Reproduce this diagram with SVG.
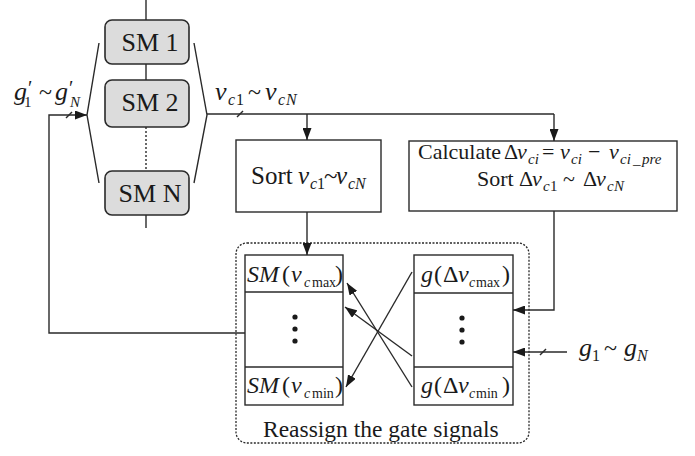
<svg xmlns="http://www.w3.org/2000/svg" width="695" height="456" viewBox="0 0 695 456">
<style>
.t{font-family:"Liberation Serif","Times New Roman",serif;fill:#1a1a1a;}
.i{font-style:italic;}
.ln{stroke:#2a2a2a;stroke-width:1.4;fill:none;}
.bx{stroke:#2a2a2a;stroke-width:1.4;fill:#fff;}
.sm{stroke:#2a2a2a;stroke-width:1.6;fill:#dcdcdc;}
</style>
<defs>
<marker id="ah" markerWidth="12" markerHeight="9" refX="12" refY="4.5" orient="auto" markerUnits="userSpaceOnUse"><path d="M0,0 L12,4.5 L0,9 z" fill="#1a1a1a"/></marker>
</defs>

<g id="sm-stack">
<line class="ln" x1="146" y1="0" x2="146" y2="20"/>
<line class="ln" x1="146" y1="64" x2="146" y2="80"/>
<line class="ln" x1="146" y1="127" x2="146" y2="171" stroke-dasharray="2,2"/>
<line class="ln" x1="146" y1="215" x2="146" y2="228"/>
<rect class="sm" x="105" y="20" width="84" height="44" rx="7"/>
<rect class="sm" x="105" y="80" width="84" height="47" rx="7"/>
<rect class="sm" x="105" y="171" width="84" height="44" rx="7"/>
<text class="t" x="150" y="51" font-size="26" text-anchor="middle">SM 1</text>
<text class="t" x="150" y="111" font-size="26" text-anchor="middle">SM 2</text>
<text class="t" x="150" y="202" font-size="26" text-anchor="middle">SM N</text>
<polyline class="ln" points="99,43 87,115 99,183"/>
<polyline class="ln" points="194,43 207,115 194,183"/>
</g>

<g id="sort">
<rect class="bx" x="236" y="140" width="145" height="72"/>
<text class="t" y="184" font-size="25"><tspan x="251">Sort</tspan><tspan x="298" class="i">v</tspan><tspan x="310" y="189" font-size="16" class="i">c</tspan><tspan x="317" y="189" font-size="16">1</tspan><tspan x="324" y="184">~</tspan><tspan x="336" class="i">v</tspan><tspan x="348" y="189" font-size="16" class="i">c</tspan><tspan x="355" y="189" font-size="16" class="i">N</tspan></text>
</g>

<g id="calculate">
<rect class="bx" x="409" y="141" width="268" height="70"/>
<text class="t" y="159" font-size="22"><tspan x="418">Calculate</tspan><tspan x="504">Δ</tspan><tspan x="517" class="i">v</tspan><tspan x="528" y="164" font-size="15" class="i">ci</tspan><tspan x="542" y="159">=</tspan><tspan x="560" class="i">v</tspan><tspan x="571" y="164" font-size="15" class="i">ci</tspan><tspan x="588" y="159">−</tspan><tspan x="609" class="i">v</tspan><tspan x="620" y="164" font-size="15" class="i">ci</tspan><tspan x="633" y="164" font-size="15">_</tspan><tspan x="642" y="164" font-size="15" class="i">pre</tspan></text>
<text class="t" y="186" font-size="22"><tspan x="477">Sort</tspan><tspan x="519">Δ</tspan><tspan x="532" class="i">v</tspan><tspan x="543" y="191" font-size="15" class="i">c</tspan><tspan x="550" y="191" font-size="15">1</tspan><tspan x="563" y="186">~</tspan><tspan x="583">Δ</tspan><tspan x="596" class="i">v</tspan><tspan x="607" y="191" font-size="15" class="i">c</tspan><tspan x="614" y="191" font-size="15" class="i">N</tspan></text>
</g>

<g id="reassign">
<rect x="236" y="243" width="293" height="200" rx="11" fill="none" stroke="#2a2a2a" stroke-width="1.3" stroke-dasharray="2,1.5"/>
<text class="t" x="263" y="437" font-size="23.5">Reassign the gate signals</text>
</g>

<g id="sm-column">
<rect class="bx" x="245" y="255" width="98" height="150"/>
<line class="ln" x1="245" y1="292" x2="343" y2="292"/>
<line class="ln" x1="245" y1="367" x2="343" y2="367"/>
<text class="t" y="282" font-size="24"><tspan x="247" class="i">SM</tspan><tspan x="282">(</tspan><tspan x="291" class="i">v</tspan><tspan x="304" y="287" font-size="14" class="i">c</tspan><tspan x="312" y="287" font-size="14">max</tspan><tspan x="335" y="282">)</tspan></text>
<text class="t" y="393" font-size="24"><tspan x="247" class="i">SM</tspan><tspan x="282">(</tspan><tspan x="291" class="i">v</tspan><tspan x="304" y="398" font-size="14" class="i">c</tspan><tspan x="312" y="398" font-size="14">min</tspan><tspan x="335" y="393">)</tspan></text>
<circle cx="295" cy="317" r="2.6" fill="#1a1a1a"/>
<circle cx="295" cy="329" r="2.6" fill="#1a1a1a"/>
<circle cx="295" cy="341" r="2.6" fill="#1a1a1a"/>
</g>

<g id="g-column">
<rect class="bx" x="414" y="255" width="99" height="150"/>
<line class="ln" x1="414" y1="293" x2="513" y2="293"/>
<line class="ln" x1="414" y1="367" x2="513" y2="367"/>
<text class="t" y="282" font-size="24"><tspan x="421" class="i">g</tspan><tspan x="434">(</tspan><tspan x="443">Δ</tspan><tspan x="458" class="i">v</tspan><tspan x="469" y="287" font-size="14" class="i">c</tspan><tspan x="476" y="287" font-size="14">max</tspan><tspan x="502" y="282">)</tspan></text>
<text class="t" y="393" font-size="24"><tspan x="421" class="i">g</tspan><tspan x="434">(</tspan><tspan x="443">Δ</tspan><tspan x="458" class="i">v</tspan><tspan x="469" y="398" font-size="14" class="i">c</tspan><tspan x="476" y="398" font-size="14">min</tspan><tspan x="502" y="393">)</tspan></text>
<circle cx="462" cy="318" r="2.6" fill="#1a1a1a"/>
<circle cx="462" cy="330" r="2.6" fill="#1a1a1a"/>
<circle cx="462" cy="342" r="2.6" fill="#1a1a1a"/>
</g>

<g id="labels">
<text class="t" y="100" font-size="26"><tspan x="14" class="i">g</tspan><tspan x="28" y="95" font-size="20">′</tspan><tspan x="24" y="107" font-size="15">1</tspan><tspan x="39" y="100" font-size="24">~</tspan><tspan x="55" class="i">g</tspan><tspan x="69" y="95" font-size="20">′</tspan><tspan x="70" y="107" font-size="15" class="i">N</tspan></text>
<text class="t" y="100" font-size="26"><tspan x="215" class="i">v</tspan><tspan x="228" y="105" font-size="16" class="i">c</tspan><tspan x="236" y="105" font-size="16">1</tspan><tspan x="248" y="100" font-size="24">~</tspan><tspan x="265" class="i">v</tspan><tspan x="278" y="105" font-size="16" class="i">c</tspan><tspan x="286" y="105" font-size="16" class="i">N</tspan></text>
<text class="t" y="356" font-size="26"><tspan x="579" class="i">g</tspan><tspan x="592" y="361" font-size="16">1</tspan><tspan x="604" y="356" font-size="24">~</tspan><tspan x="624" class="i">g</tspan><tspan x="637" y="361" font-size="16" class="i">N</tspan></text>
</g>

<g id="connectors">
<polyline class="ln" points="245,333 49,333 49,115 87,115" marker-end="url(#ah)"/>
<line class="ln" x1="66" y1="118" x2="72" y2="112"/>
<line class="ln" x1="207" y1="114" x2="554" y2="114"/>
<line class="ln" x1="237" y1="117" x2="243" y2="111"/>
<line class="ln" x1="307" y1="114" x2="307" y2="140" marker-end="url(#ah)"/>
<line class="ln" x1="554" y1="114" x2="554" y2="141" marker-end="url(#ah)"/>
<line class="ln" x1="307" y1="212" x2="307" y2="255" marker-end="url(#ah)"/>
<polyline class="ln" points="554,211 554,310 513,310" marker-end="url(#ah)"/>
<line class="ln" x1="567" y1="352" x2="513" y2="352" marker-end="url(#ah)"/>
<line class="ln" x1="540" y1="355" x2="546" y2="349"/>
<line class="ln" x1="412" y1="272" x2="346" y2="387" marker-end="url(#ah)"/>
<line class="ln" x1="412" y1="356" x2="345" y2="307" marker-end="url(#ah)"/>
<line class="ln" x1="412" y1="387" x2="347" y2="283" marker-end="url(#ah)"/>
</g>
</svg>
